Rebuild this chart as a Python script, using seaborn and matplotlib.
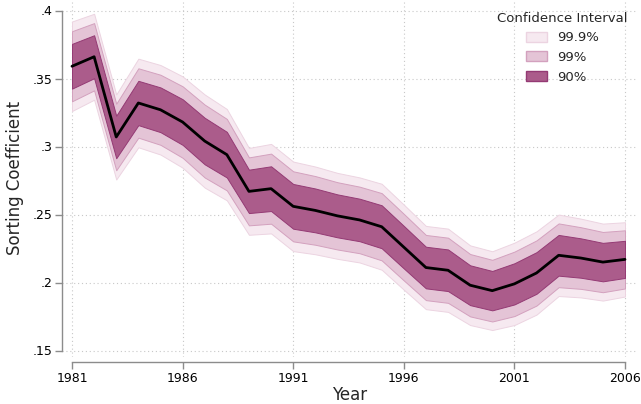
import numpy as np
import pandas as pd
import matplotlib
matplotlib.use("Agg")
import matplotlib.pyplot as plt
import seaborn as sns
from matplotlib.patches import Patch
from matplotlib.ticker import FuncFormatter

years = list(range(1981, 2007))
coef = [0.359, 0.366, 0.307, 0.332, 0.327, 0.318, 0.304, 0.294, 0.267, 0.269,
        0.256, 0.253, 0.249, 0.246, 0.241, 0.226, 0.211, 0.209, 0.198, 0.194,
        0.199, 0.207, 0.220, 0.218, 0.215, 0.217]
se = [0.0100, 0.0096, 0.0095, 0.0099, 0.0100, 0.0102, 0.0104, 0.0102, 0.0097, 0.0100,
      0.0100, 0.0098, 0.0096, 0.0095, 0.0096, 0.0095, 0.0093, 0.0093, 0.0089, 0.0088,
      0.0092, 0.0093, 0.0091, 0.0088, 0.0086, 0.0083]
levels = ["99.9%", "99%", "90%"]
zvals = [3.291, 2.576, 1.645]
fills = ["#f6e9f0", "#e4c4d6", "#ab5c8b"]
edges = ["#ecd4e1", "#d3a1be", "#943a74"]
xticks = [1981, 1986, 1991, 1996, 2001, 2006]
yticks = [0.15, 0.2, 0.25, 0.3, 0.35, 0.4]

df = pd.DataFrame({"Year": years, "coef": coef, "se": se})

sns.set_style("white")
plt.rcParams["font.family"] = ["DejaVu Sans"]

fig = plt.figure(figsize=(6.41, 4.04), dpi=100)
ax = fig.add_axes([62 / 641, 1 - 356.5 / 404, (637 - 62) / 641, 356.5 / 404])

for lab, z, fc, ec in zip(levels, zvals, fills, edges):
    lo = df["coef"] - z * df["se"]
    hi = df["coef"] + z * df["se"]
    ax.fill_between(df["Year"], lo, hi, facecolor=fc, edgecolor=ec, linewidth=0.7, zorder=2)

sns.lineplot(data=df, x="Year", y="coef", color="black", linewidth=2.0, ax=ax, zorder=4)

ax.set_xlim(1981 - 10 / 22.12, 2006 + 12 / 22.12)
ax.set_ylim(0.15 - 6 / 1360, 0.4 + 10.5 / 1360)
ax.set_xticks(xticks)
ax.set_yticks(yticks)
ax.yaxis.set_major_formatter(FuncFormatter(lambda v, p: ("%g" % v).lstrip("0")))
ax.grid(True, linestyle=(0, (1, 2.5)), color="#c8c8c8", linewidth=0.8, zorder=0)
ax.set_axisbelow(True)

for s in ["top", "right"]:
    ax.spines[s].set_visible(False)
ax.spines["left"].set_bounds(0.15, 0.4)
ax.spines["bottom"].set_bounds(1981, 2006)
ax.spines["bottom"].set_position(("outward", 4))
for s in ["left", "bottom"]:
    ax.spines[s].set_color("#8c8c8c")
    ax.spines[s].set_linewidth(1.0)
ax.tick_params(axis="both", which="both", length=5, width=1.0, color="#8c8c8c",
               labelsize=9, labelcolor="black", direction="out", left=True, bottom=True,
               pad=2)

ax.set_xlabel("Year", fontsize=12, labelpad=1)
ax.set_ylabel("Sorting Coefficient", fontsize=12, labelpad=6)

handles = [Patch(facecolor=fc, edgecolor=ec, linewidth=1.0) for fc, ec in zip(fills, edges)]
leg = ax.legend(handles, levels, title="Confidence Interval", loc="upper right",
                bbox_to_anchor=(1.0, 0.993), frameon=False, fontsize=9.5, title_fontsize=9.5,
                handlelength=1.6, handleheight=0.75, labelspacing=0.5, handletextpad=0.75,
                borderaxespad=0.3)

fig.savefig("out.png", dpi=100)
